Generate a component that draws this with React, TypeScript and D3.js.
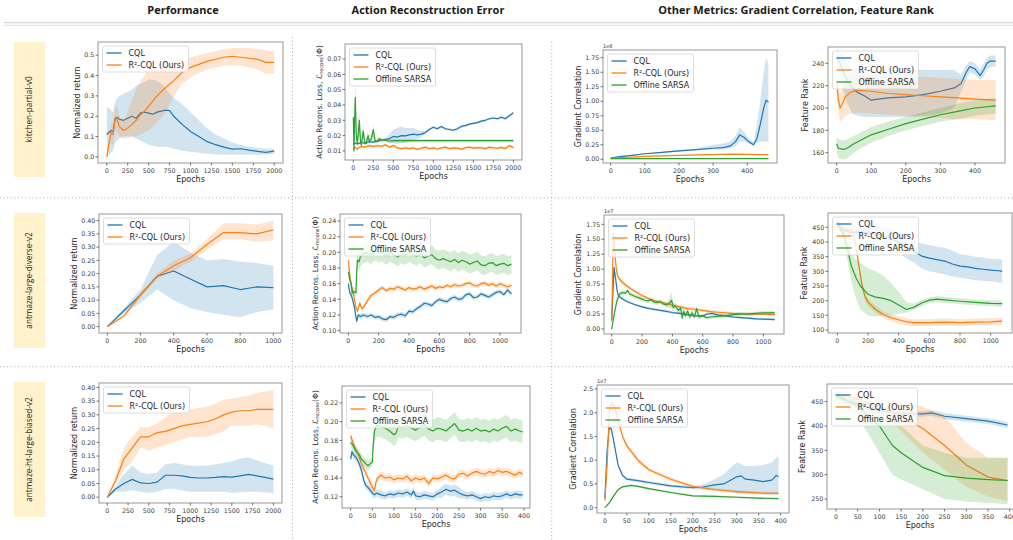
import * as d3 from "d3";

type Pt = number[]; // [epoch, mean] or [epoch, mean, lo, hi]

const C = { cql: "#1f77b4", r2: "#ff7f0e", sarsa: "#2ca02c", text: "#262626", tick: "#3a3a3a", spine: "#8c8c8c" };
const NAMES = ["CQL", "R²-CQL (Ours)", "Offline SARSA"];
const COLUMN_TITLES = ["Performance", "Action Reconstruction Error", "Other Metrics: Gradient Correlation, Feature Rank"];
const ROW_LABELS = ["kitchen-partial-v0", "antmaze-large-diverse-v2", "antmaze-ht-large-biased-v2"];

// ---- tick labels ----
const EP_2000 = [0, 250, 500, 750, 1000, 1250, 1500, 1750, 2000];
const EP_400_100 = [0, 100, 200, 300, 400];
const EP_1000 = [0, 200, 400, 600, 800, 1000];
const EP_400_50 = [0, 50, 100, 150, 200, 250, 300, 350, 400];
const K_PERF_YT = [0, 0.1, 0.2, 0.3, 0.4, 0.5];
const K_RECON_YT = [0.01, 0.02, 0.03, 0.04, 0.05, 0.06, 0.07];
const GRAD_175_YT = [0, 0.25, 0.5, 0.75, 1, 1.25, 1.5, 1.75];
const K_RANK_YT = [160, 180, 200, 220, 240];
const PERF_040_YT = [0, 0.05, 0.1, 0.15, 0.2, 0.25, 0.3, 0.35, 0.4];
const D_RECON_YT = [0.1, 0.12, 0.14, 0.16, 0.18, 0.2, 0.22, 0.24];
const D_RANK_YT = [100, 150, 200, 250, 300, 350, 400, 450];
const B_RECON_YT = [0.12, 0.14, 0.16, 0.18, 0.2, 0.22];
const B_GRAD_YT = [0, 0.5, 1, 1.5, 2, 2.5];
const B_RANK_YT = [250, 300, 350, 400, 450];

// ---- kitchen-partial-v0 ----
const K_PERF_CQL: Pt[] = [[0,0.11,0,0.24],[25,0.12,0.01,0.24],[50,0.13,0.02,0.23],[75,0.125,0.03,0.22],[100,0.19,0.07,0.27],[125,0.195,0.08,0.29],[150,0.185,0.09,0.3],[200,0.18,0.1,0.31],[250,0.19,0.1,0.32],[300,0.2,0.1,0.33],[350,0.19,0.09,0.35],[400,0.215,0.08,0.36],[450,0.22,0.07,0.37],[500,0.215,0.06,0.38],[550,0.21,0.055,0.38],[600,0.22,0.05,0.375],[650,0.225,0.05,0.36],[700,0.23,0.05,0.34],[750,0.228,0.045,0.31],[800,0.2,0.04,0.29],[900,0.16,0.03,0.26],[1000,0.125,0.025,0.22],[1100,0.1,0.02,0.18],[1200,0.075,0.015,0.14],[1300,0.06,0.012,0.11],[1400,0.048,0.01,0.09],[1500,0.038,0.01,0.07],[1600,0.04,0.01,0.06],[1700,0.033,0.01,0.05],[1800,0.027,0.01,0.045],[1900,0.022,0.01,0.04],[2000,0.028,0.015,0.04]];
const K_PERF_R2: Pt[] = [[0,0,0,0.01],[25,0.06,0.03,0.1],[50,0.12,0.07,0.16],[75,0.11,0.06,0.17],[100,0.19,0.13,0.25],[125,0.18,0.12,0.24],[150,0.15,0.1,0.2],[200,0.13,0.09,0.18],[250,0.14,0.09,0.22],[300,0.16,0.1,0.28],[350,0.18,0.1,0.33],[400,0.205,0.11,0.37],[450,0.225,0.12,0.4],[500,0.25,0.13,0.43],[600,0.3,0.17,0.45],[700,0.34,0.22,0.47],[800,0.375,0.3,0.475],[900,0.415,0.36,0.48],[1000,0.44,0.39,0.49],[1100,0.455,0.41,0.5],[1200,0.47,0.43,0.51],[1300,0.48,0.44,0.52],[1400,0.49,0.45,0.53],[1500,0.495,0.45,0.535],[1600,0.49,0.45,0.535],[1700,0.485,0.44,0.535],[1800,0.48,0.43,0.53],[1900,0.465,0.41,0.525],[2000,0.465,0.41,0.52]];

const K_RECON_SPREAD = 0.0008;
const K_RECON_CQL: Pt[] = [[0,0.0145],[25,0.015],[50,0.0145],[100,0.0155],[150,0.015],[200,0.016],[250,0.0158],[300,0.0165],[350,0.017],[400,0.0175],[450,0.018,0.015,0.021],[500,0.0195,0.015,0.024],[550,0.019,0.0145,0.025],[600,0.02,0.015,0.026],[650,0.0198,0.015,0.025],[700,0.0205,0.016,0.025],[750,0.021,0.017,0.025],[800,0.0205,0.018,0.024],[850,0.021,0.019,0.023],[900,0.022],[950,0.024],[1000,0.0255],[1050,0.0245],[1100,0.026],[1150,0.0245],[1200,0.024],[1250,0.0235],[1300,0.0245],[1350,0.026],[1400,0.0265],[1450,0.0275],[1500,0.028],[1550,0.0285],[1600,0.0295],[1650,0.03],[1700,0.031],[1750,0.0315],[1800,0.031],[1850,0.032],[1900,0.031],[1950,0.033],[2000,0.035]];
const K_RECON_R2: Pt[] = [[0,0.011],[20,0.0125],[50,0.011],[75,0.0125],[100,0.013],[150,0.0125],[200,0.0135],[250,0.013],[300,0.0135],[350,0.013],[400,0.014],[450,0.0125],[500,0.0135],[550,0.012],[600,0.0115],[650,0.012],[700,0.0115],[750,0.012],[800,0.011],[850,0.0118],[900,0.0125],[950,0.0115],[1000,0.012],[1050,0.0113],[1100,0.012],[1150,0.0125],[1200,0.0115],[1250,0.012],[1300,0.0118],[1350,0.0112],[1400,0.012],[1450,0.0125],[1500,0.0118],[1550,0.0122],[1600,0.012],[1650,0.0115],[1700,0.0125],[1750,0.012],[1800,0.0118],[1850,0.0123],[1900,0.0115],[1950,0.0135],[2000,0.0122]];
const K_RECON_SARSA: Pt[] = [[0,0.032,0.026,0.038],[8,0.01,0.008,0.014],[15,0.028,0.02,0.036],[25,0.045,0.034,0.058],[35,0.022,0.016,0.03],[50,0.015,0.012,0.02],[60,0.02,0.015,0.026],[75,0.03,0.022,0.036],[90,0.016,0.013,0.02],[100,0.014,0.012,0.017],[125,0.023,0.018,0.027],[140,0.016,0.014,0.019],[160,0.015,0.013,0.018],[185,0.02,0.017,0.023],[200,0.016,0.014,0.018],[225,0.018,0.016,0.02],[250,0.024,0.019,0.027],[270,0.017,0.015,0.019],[300,0.016,0.015,0.018],[325,0.018,0.016,0.019],[350,0.017,0.016,0.0185],[400,0.017,0.016,0.018],[450,0.0165,0.0155,0.0178],[500,0.0167,0.0155,0.0178],[1000,0.0167,0.0155,0.0178],[1500,0.0167,0.0155,0.0178],[2000,0.0167,0.0155,0.0178]];

const K_GRAD_CQL: Pt[] = [[0,0.02,0.01,0.03],[25,0.045,0.035,0.055],[50,0.06,0.05,0.07],[100,0.095,0.085,0.105],[150,0.12,0.11,0.13],[200,0.145,0.13,0.16],[250,0.165,0.15,0.18],[300,0.19,0.17,0.25],[330,0.2,0.17,0.27],[350,0.23,0.19,0.3],[365,0.3,0.22,0.4],[378,0.42,0.3,0.55],[390,0.38,0.3,0.48],[405,0.3,0.28,0.35],[418,0.25,0.23,0.3],[428,0.35,0.28,0.6],[438,0.6,0.3,1.0],[448,0.88,0.3,1.5],[455,1.02,0.3,1.75],[462,0.98,0.3,1.65]];
const K_GRAD_R2: Pt[] = [[0,0.02],[50,0.035],[100,0.05],[150,0.06],[200,0.068],[250,0.075],[300,0.08],[350,0.088],[400,0.085],[462,0.08]];
const K_GRAD_SARSA: Pt[] = [[0,0.01],[200,0.011],[462,0.012]];

const K_RANK_CQL: Pt[] = [[0,246,240,252],[10,240,225,250],[20,232,215,245],[30,225,205,240],[45,218,195,235],[60,214,193,234],[80,211,192,234],[100,207,192,234],[120,208,192,234],[150,209,192,234],[200,210,192,234],[250,212,193,234],[300,215,195,234],[340,218,200,234],[360,222,215,230],[375,232,225,238],[385,237,232,242],[400,235,230,240],[415,229,225,234],[425,234,228,240],[435,240,235,245],[445,242,237,247],[460,242,237,247]];
const K_RANK_R2: Pt[] = [[0,222,212,232],[5,208,195,222],[10,200,188,213],[18,205,190,218],[25,210,193,225],[40,214,195,228],[60,216,196,230],[100,215,195,229],[150,213,194,228],[200,212,193,228],[250,211,192,228],[300,210,191,227],[350,209,190,226],[400,208,190,225],[460,207,189,225]];
const K_RANK_SARSA: Pt[] = [[0,168,160,174],[5,164,155,172],[20,163,154,171],[30,164,155,172],[50,168,160,175],[75,172,165,179],[100,176,169,183],[150,181,175,188],[200,186,180,192],[250,190,184,196],[300,194,188,200],[350,197,190,204],[400,200,193,207],[460,202,195,209]];

// ---- antmaze-large-diverse-v2 ----
const D_PERF_CQL: Pt[] = [[0,0,0,0],[100,0.06,0.05,0.07],[200,0.12,0.09,0.14],[300,0.19,0.14,0.27],[400,0.21,0.1,0.32],[500,0.18,0.07,0.28],[600,0.15,0.055,0.25],[700,0.155,0.045,0.255],[800,0.14,0.035,0.245],[900,0.15,0.055,0.24],[1000,0.147,0.065,0.23]];
const D_PERF_R2: Pt[] = [[0,0,0,0],[100,0.04,0.035,0.045],[200,0.12,0.11,0.13],[300,0.19,0.18,0.2],[400,0.23,0.21,0.25],[500,0.26,0.245,0.275],[600,0.31,0.29,0.33],[700,0.355,0.33,0.39],[800,0.355,0.33,0.39],[900,0.35,0.32,0.385],[1000,0.365,0.325,0.4]];

const D_RECON_SPREAD = 0.003;
const D_RECON_CQL: Pt[] = [[0,0.16],[10,0.148],[20,0.145],[30,0.138],[40,0.13],[50,0.118],[55,0.112],[65,0.12],[80,0.118],[100,0.12],[125,0.118],[150,0.12],[175,0.117],[200,0.118],[225,0.115],[250,0.114],[275,0.118],[300,0.117],[325,0.12],[350,0.121],[375,0.119],[400,0.125],[425,0.124],[450,0.128],[475,0.131],[500,0.135],[525,0.134],[550,0.132],[575,0.137],[600,0.14],[625,0.138],[650,0.137],[675,0.141],[700,0.143],[725,0.14],[750,0.141],[775,0.146],[800,0.147],[825,0.142],[850,0.143],[875,0.147],[900,0.145],[925,0.143],[950,0.146],[975,0.149],[1000,0.15],[1025,0.146],[1050,0.152],[1075,0.147]];
const D_RECON_R2: Pt[] = [[0,0.19],[10,0.17],[20,0.158],[30,0.15],[40,0.14],[50,0.13],[60,0.125],[75,0.135],[90,0.128],[100,0.13],[125,0.138],[150,0.145],[175,0.148],[200,0.152],[225,0.155],[250,0.151],[275,0.154],[300,0.153],[325,0.156],[350,0.154],[375,0.152],[400,0.155],[425,0.153],[450,0.154],[475,0.156],[500,0.153],[525,0.155],[550,0.157],[575,0.154],[600,0.156],[625,0.155],[650,0.158],[675,0.156],[700,0.159],[725,0.157],[750,0.158],[775,0.16],[800,0.161],[825,0.158],[850,0.157],[875,0.16],[900,0.161],[925,0.158],[950,0.16],[975,0.157],[1000,0.16],[1025,0.158],[1050,0.156],[1075,0.158]];
const D_RECON_SARSA: Pt[] = [[0,0.175,0.169,0.181],[10,0.165,0.159,0.171],[20,0.158,0.152,0.164],[25,0.148,0.143,0.154],[35,0.15,0.145,0.156],[50,0.148,0.143,0.154],[55,0.175,0.165,0.185],[60,0.19,0.178,0.202],[70,0.188,0.176,0.2],[80,0.195,0.183,0.207],[100,0.198,0.186,0.21],[125,0.2,0.188,0.212],[150,0.197,0.185,0.209],[175,0.202,0.19,0.214],[200,0.199,0.187,0.211],[225,0.2,0.188,0.212],[250,0.196,0.184,0.208],[275,0.2,0.188,0.212],[300,0.197,0.185,0.209],[325,0.194,0.182,0.206],[350,0.198,0.186,0.21],[375,0.196,0.184,0.208],[400,0.2,0.188,0.212],[425,0.197,0.185,0.209],[450,0.195,0.183,0.207],[475,0.198,0.186,0.21],[500,0.193,0.181,0.205],[525,0.195,0.183,0.207],[550,0.197,0.185,0.209],[575,0.192,0.18,0.204],[600,0.19,0.178,0.202],[625,0.192,0.18,0.204],[650,0.19,0.178,0.202],[675,0.188,0.176,0.2],[700,0.191,0.179,0.203],[725,0.187,0.175,0.199],[750,0.19,0.178,0.202],[775,0.188,0.176,0.2],[800,0.185,0.173,0.197],[825,0.187,0.175,0.199],[850,0.189,0.177,0.201],[875,0.184,0.172,0.196],[900,0.183,0.171,0.195],[925,0.186,0.174,0.198],[950,0.187,0.175,0.199],[975,0.183,0.171,0.195],[1000,0.185,0.173,0.197],[1025,0.186,0.174,0.198],[1050,0.183,0.171,0.195],[1075,0.185,0.173,0.197]];

const D_GRAD_SPREAD = 0.02;
const D_GRAD_CQL: Pt[] = [[0,0.15],[8,0.6],[15,1.03],[25,0.85],[35,0.65],[45,0.55],[60,0.52],[80,0.49],[100,0.46],[150,0.41],[200,0.37],[250,0.34],[300,0.32],[350,0.3],[400,0.275],[450,0.26],[500,0.24],[550,0.22],[600,0.22],[630,0.25],[660,0.26],[700,0.235],[750,0.22],[800,0.2],[850,0.19],[900,0.18],[950,0.17],[1000,0.165],[1050,0.16],[1075,0.155]];
const D_GRAD_R2: Pt[] = [[0,0.13,0.1,0.16],[5,0.8,0.7,0.9],[10,1.6,1.45,1.75],[15,1.5,1.4,1.6],[20,1.3,1.22,1.38],[30,1.0,0.95,1.05],[40,0.88,0.84,0.92],[50,0.84,0.8,0.88],[70,0.78,0.74,0.82],[100,0.72,0.69,0.75],[150,0.63,0.6,0.66],[200,0.56,0.53,0.59],[250,0.5,0.47,0.53],[300,0.46,0.43,0.49],[350,0.43,0.4,0.46],[400,0.4,0.37,0.43],[450,0.37,0.34,0.4],[500,0.34,0.31,0.37],[550,0.33,0.3,0.36],[600,0.31,0.28,0.34],[650,0.29,0.26,0.32],[700,0.28,0.25,0.31],[750,0.27,0.24,0.3],[800,0.26,0.23,0.29],[850,0.255,0.23,0.28],[900,0.25,0.225,0.275],[950,0.25,0.225,0.275],[1000,0.25,0.225,0.275],[1050,0.245,0.22,0.27],[1075,0.24,0.215,0.265]];
const D_GRAD_SARSA: Pt[] = [[0,0,0,0.02],[10,0.15,0.12,0.18],[20,0.3,0.26,0.34],[35,0.48,0.44,0.52],[50,0.58,0.54,0.62],[70,0.61,0.57,0.65],[90,0.6,0.56,0.64],[105,0.64,0.6,0.68],[120,0.58,0.54,0.62],[140,0.56,0.52,0.6],[160,0.54,0.5,0.58],[180,0.52,0.48,0.56],[200,0.5,0.46,0.54],[220,0.48,0.44,0.52],[240,0.47,0.43,0.51],[260,0.49,0.45,0.53],[280,0.45,0.41,0.49],[300,0.44,0.4,0.48],[320,0.46,0.42,0.5],[340,0.42,0.38,0.46],[360,0.4,0.36,0.44],[380,0.43,0.35,0.52],[395,0.48,0.34,0.62],[405,0.36,0.3,0.44],[420,0.38,0.33,0.43],[440,0.31,0.26,0.36],[455,0.35,0.3,0.4],[465,0.18,0.13,0.24],[475,0.3,0.25,0.35],[485,0.22,0.17,0.27],[500,0.3,0.25,0.35],[515,0.2,0.15,0.25],[530,0.27,0.22,0.32],[545,0.2,0.16,0.25],[560,0.34,0.28,0.38],[575,0.2,0.16,0.24],[600,0.22,0.19,0.25],[625,0.19,0.16,0.22],[650,0.2,0.17,0.23],[700,0.21,0.18,0.24],[750,0.22,0.19,0.25],[800,0.24,0.21,0.27],[850,0.25,0.22,0.28],[900,0.25,0.22,0.28],[950,0.26,0.23,0.29],[1000,0.27,0.24,0.3],[1050,0.27,0.24,0.3],[1075,0.275,0.245,0.305]];

const D_RANK_CQL: Pt[] = [[0,455,445,465],[25,445,430,460],[50,438,425,452],[100,432,420,445],[150,435,420,450],[200,430,412,448],[250,428,405,450],[300,422,395,450],[350,412,380,445],[400,398,365,432],[450,382,345,420],[500,368,330,405],[550,352,310,395],[600,345,300,390],[650,340,295,385],[700,335,290,380],[750,325,282,370],[800,318,278,358],[850,315,275,355],[900,310,270,350],[950,307,268,347],[1000,304,265,343],[1050,302,262,342],[1075,300,260,340]];
const D_RANK_R2: Pt[] = [[0,470,460,480],[20,440,428,452],[40,445,433,457],[60,443,431,455],[80,440,428,452],[100,438,425,450],[120,390,375,405],[140,320,305,335],[160,255,240,270],[180,215,200,230],[200,195,182,208],[250,170,158,182],[300,152,140,164],[350,142,130,154],[400,135,123,147],[450,128,116,140],[500,125,113,137],[600,125,113,137],[700,127,115,139],[800,125,113,137],[900,127,115,139],[1000,128,116,140],[1075,130,118,142]];
const D_RANK_SARSA: Pt[] = [[0,470,460,480],[30,440,420,460],[60,390,355,420],[90,320,270,360],[120,280,210,340],[150,250,170,330],[200,222,150,310],[250,212,145,300],[300,208,150,285],[350,200,150,260],[400,185,155,230],[450,170,160,195],[500,178,168,190],[550,192,182,202],[600,202,192,212],[650,205,195,215],[700,203,193,213],[800,198,188,208],[900,194,184,204],[1000,191,181,201],[1075,190,180,200]];

// ---- antmaze-ht-large-biased-v2 ----
const B_PERF_CQL: Pt[] = [[0,0,0,0],[100,0.03,0.02,0.04],[200,0.05,0.02,0.085],[300,0.065,0.025,0.115],[400,0.052,0.02,0.09],[500,0.05,0.015,0.085],[600,0.055,0.02,0.09],[700,0.08,0.03,0.12],[800,0.08,0.03,0.125],[900,0.078,0.025,0.12],[1000,0.072,0.02,0.115],[1100,0.07,0.02,0.115],[1200,0.07,0.02,0.115],[1300,0.072,0.02,0.12],[1400,0.075,0.02,0.125],[1500,0.073,0.015,0.13],[1600,0.078,0.018,0.14],[1700,0.083,0.02,0.145],[1800,0.078,0.02,0.135],[1900,0.072,0.018,0.125],[2000,0.066,0.015,0.115]];
const B_PERF_R2: Pt[] = [[0,0,0,0],[100,0.06,0.05,0.08],[200,0.14,0.1,0.18],[300,0.18,0.13,0.22],[400,0.22,0.18,0.255],[500,0.22,0.17,0.255],[600,0.235,0.18,0.27],[700,0.24,0.19,0.29],[800,0.25,0.2,0.31],[900,0.26,0.21,0.315],[1000,0.265,0.22,0.32],[1100,0.27,0.22,0.325],[1200,0.275,0.22,0.33],[1300,0.285,0.23,0.34],[1400,0.3,0.24,0.355],[1500,0.31,0.26,0.36],[1600,0.315,0.26,0.365],[1700,0.315,0.26,0.37],[1800,0.32,0.265,0.38],[1900,0.32,0.26,0.385],[2000,0.32,0.25,0.39]];

const B_RECON_SPREAD = 0.004;
const B_RECON_CQL: Pt[] = [[0,0.16],[3,0.168],[6,0.165],[10,0.163],[15,0.16],[20,0.155],[25,0.148],[30,0.138],[35,0.132],[40,0.13],[45,0.127],[50,0.124],[55,0.122],[60,0.124],[70,0.122],[80,0.121],[90,0.123],[100,0.122],[110,0.124],[120,0.123],[130,0.125],[140,0.122],[145,0.126],[150,0.121],[160,0.12],[170,0.122],[180,0.121],[190,0.12],[200,0.123],[210,0.125,0.119,0.131],[220,0.128,0.122,0.134],[230,0.126,0.12,0.132],[240,0.127,0.121,0.133],[250,0.124,0.118,0.13],[260,0.122],[270,0.121],[280,0.122],[290,0.12],[300,0.118],[310,0.12],[320,0.119],[330,0.121],[340,0.12],[350,0.121],[360,0.123],[370,0.121],[380,0.123],[390,0.122],[397,0.122]];
const B_RECON_R2: Pt[] = [[0,0.185],[5,0.178],[10,0.172],[15,0.168],[20,0.162],[25,0.155],[30,0.15],[35,0.145],[40,0.14],[45,0.135],[50,0.13],[55,0.127],[58,0.135],[62,0.14],[70,0.143],[80,0.14],[90,0.141],[100,0.138],[110,0.14],[120,0.139],[130,0.142],[140,0.137],[150,0.14],[160,0.138],[170,0.14],[180,0.134],[190,0.14],[200,0.139],[210,0.141],[220,0.143],[230,0.14],[240,0.139],[250,0.144],[260,0.145],[270,0.142],[280,0.145],[290,0.147],[300,0.145],[310,0.144],[320,0.147],[330,0.145],[340,0.148],[350,0.146],[360,0.147],[370,0.145],[380,0.143],[390,0.146],[397,0.144]];
const B_RECON_SARSA: Pt[] = [[0,0.178,0.173,0.183],[5,0.175,0.17,0.18],[10,0.17,0.165,0.175],[15,0.167,0.162,0.172],[20,0.165,0.16,0.17],[25,0.16,0.155,0.165],[30,0.158,0.153,0.163],[35,0.155,0.15,0.16],[40,0.153,0.148,0.158],[45,0.155,0.15,0.16],[50,0.157,0.152,0.162],[52,0.175,0.165,0.185],[55,0.19,0.178,0.202],[60,0.196,0.184,0.208],[70,0.195,0.183,0.207],[80,0.193,0.181,0.205],[90,0.19,0.178,0.202],[100,0.186,0.174,0.198],[105,0.188,0.176,0.2],[110,0.195,0.183,0.207],[120,0.194,0.182,0.206],[130,0.196,0.184,0.208],[140,0.193,0.181,0.205],[150,0.191,0.179,0.203],[160,0.194,0.182,0.206],[170,0.197,0.185,0.209],[180,0.192,0.18,0.204],[190,0.19,0.178,0.202],[200,0.193,0.181,0.205],[210,0.192,0.18,0.204],[220,0.19,0.178,0.202],[230,0.194,0.182,0.206],[240,0.198,0.186,0.21],[250,0.191,0.179,0.203],[260,0.19,0.178,0.202],[270,0.192,0.18,0.204],[280,0.19,0.178,0.202],[290,0.193,0.181,0.205],[300,0.19,0.178,0.202],[310,0.191,0.179,0.203],[320,0.189,0.177,0.201],[330,0.192,0.18,0.204],[340,0.19,0.178,0.202],[350,0.193,0.181,0.205],[360,0.195,0.183,0.207],[370,0.19,0.178,0.202],[380,0.192,0.18,0.204],[390,0.19,0.178,0.202],[397,0.189,0.177,0.201]];

const B_GRAD_CQL: Pt[] = [[0,0.2,0.17,0.23],[5,1.2,1.15,1.25],[10,1.7,1.65,1.75],[15,1.65,1.6,1.7],[20,1.4,1.36,1.44],[30,0.9,0.87,0.93],[40,0.68,0.65,0.71],[50,0.6,0.57,0.63],[75,0.57,0.54,0.6],[100,0.53,0.5,0.56],[150,0.46,0.43,0.49],[200,0.42,0.39,0.45],[220,0.43,0.38,0.48],[250,0.48,0.38,0.6],[270,0.5,0.35,0.7],[290,0.6,0.32,0.88],[300,0.65,0.3,0.95],[310,0.67,0.3,0.92],[320,0.6,0.3,0.88],[340,0.58,0.3,0.88],[360,0.55,0.28,0.9],[380,0.58,0.28,0.95],[390,0.68,0.28,1.05],[395,0.65,0.28,1.08]];
const B_GRAD_R2: Pt[] = [[0,0.15,0.12,0.18],[5,0.9,0.85,0.95],[10,2.0,1.95,2.05],[15,2.2,2.15,2.25],[20,2.18,2.12,2.24],[30,1.85,1.79,1.91],[40,1.5,1.44,1.56],[50,1.3,1.25,1.35],[75,1.0,0.95,1.05],[100,0.8,0.76,0.84],[150,0.6,0.56,0.64],[200,0.45,0.42,0.48],[250,0.38,0.35,0.41],[300,0.34,0.31,0.37],[350,0.31,0.28,0.34],[395,0.3,0.27,0.33]];
const B_GRAD_SARSA: Pt[] = [[0,0,0,0.02],[10,0.1,0.08,0.12],[20,0.25,0.23,0.27],[30,0.38,0.36,0.4],[40,0.44,0.42,0.46],[60,0.47,0.45,0.49],[70,0.46,0.44,0.48],[100,0.4,0.38,0.42],[150,0.32,0.3,0.34],[200,0.25,0.23,0.27],[250,0.24,0.22,0.26],[300,0.22,0.2,0.24],[350,0.2,0.18,0.22],[395,0.19,0.17,0.21]];

const B_RANK_CQL: Pt[] = [[0,460,454,466],[50,445,439,451],[100,432,426,438],[150,425,419,431],[200,425,419,431],[220,427,421,433],[250,420,414,426],[300,415,409,421],[350,410,404,416],[395,402,396,408]];
const B_RANK_R2: Pt[] = [[0,465,458,472],[50,455,440,468],[100,440,425,455],[150,420,390,450],[200,395,345,440],[250,360,310,420],[300,320,275,365],[350,295,255,335],[395,288,245,335]];
const B_RANK_SARSA: Pt[] = [[0,465,458,472],[50,440,420,455],[100,400,345,440],[130,360,300,420],[150,345,290,400],[200,315,270,360],[250,298,250,345],[300,293,245,335],[350,290,242,335],[395,288,240,335]];

// ---- layout: axes box [left, top, right, bottom], domains, ticks ----
const RECON_LABEL = "recon";
const PANELS = [
  { box: [98, 42, 283, 163], xd: [-105, 2105], yd: [-0.03, 0.565], xt: EP_2000, yt: K_PERF_YT, yf: ".1f", yl: "Normalized return", ylx: 77, series: [K_PERF_CQL, K_PERF_R2] },
  { box: [345, 44, 522, 160], xd: [-104, 2108], yd: [0.0041, 0.0798], xt: EP_2000, yt: K_RECON_YT, yf: ".2f", yl: RECON_LABEL, ylx: 319, series: [K_RECON_CQL, K_RECON_R2, K_RECON_SARSA], spread: K_RECON_SPREAD },
  { box: [603, 50, 777, 163], xd: [-22.5, 487], yd: [-0.064, 1.883], xt: EP_400_100, yt: GRAD_175_YT, yf: ".2f", yl: "Gradient Correlation", ylx: 578, series: [K_GRAD_CQL, K_GRAD_R2, K_GRAD_SARSA], spread: 0.008, exp: "1e8" },
  { box: [828, 47, 1005, 163], xd: [-25, 487], yd: [150.8, 254.6], xt: EP_400_100, yt: K_RANK_YT, yf: "d", yl: "Feature Rank", ylx: 805, series: [K_RANK_CQL, K_RANK_R2, K_RANK_SARSA] },
  { box: [99, 214, 282, 333], xd: [-50, 1052], yd: [-0.024, 0.425], xt: EP_1000, yt: PERF_040_YT, yf: ".2f", yl: "Normalized return", ylx: 74, series: [D_PERF_CQL, D_PERF_R2] },
  { box: [340, 214, 521, 333], xd: [-55, 1138], yd: [0.097, 0.249], xt: EP_1000, yt: D_RECON_YT, yf: ".2f", yl: RECON_LABEL, ylx: 315, series: [D_RECON_CQL, D_RECON_R2, D_RECON_SARSA], spread: D_RECON_SPREAD },
  { box: [604, 215, 784, 334], xd: [-51, 1136], yd: [-0.084, 1.906], xt: EP_1000, yt: GRAD_175_YT, yf: ".2f", yl: "Gradient Correlation", ylx: 578, series: [D_GRAD_CQL, D_GRAD_R2, D_GRAD_SARSA], spread: D_GRAD_SPREAD, exp: "1e7" },
  { box: [828, 213, 1012, 333], xd: [-61, 1139], yd: [89.8, 498.8], xt: EP_1000, yt: D_RANK_YT, yf: "d", yl: "Feature Rank", ylx: 804, series: [D_RANK_CQL, D_RANK_R2, D_RANK_SARSA] },
  { box: [99, 383, 282, 503], xd: [-100, 2104], yd: [-0.021, 0.416], xt: EP_2000, yt: PERF_040_YT, yf: ".2f", yl: "Normalized return", ylx: 74, series: [B_PERF_CQL, B_PERF_R2] },
  { box: [342, 386, 530, 508], xd: [-20, 414], yd: [0.108, 0.238], xt: EP_400_50, yt: B_RECON_YT, yf: ".2f", yl: RECON_LABEL, ylx: 315, series: [B_RECON_CQL, B_RECON_R2, B_RECON_SARSA], spread: B_RECON_SPREAD },
  { box: [597, 385, 789, 513], xd: [-18, 419], yd: [-0.112, 2.584], xt: EP_400_50, yt: B_GRAD_YT, yf: ".1f", yl: "Gradient Correlation", ylx: 573, series: [B_GRAD_CQL, B_GRAD_R2, B_GRAD_SARSA], exp: "1e7" },
  { box: [827, 384, 1018, 509], xd: [-20.7, 419], yd: [229.5, 486.3], xt: EP_400_50, yt: B_RANK_YT, yf: "d", yl: "Feature Rank", ylx: 802, series: [B_RANK_CQL, B_RANK_R2, B_RANK_SARSA] },
];
const SERIES_COLORS = [C.cql, C.r2, C.sarsa];
const FONT = "'DejaVu Sans', sans-serif";

function norm(rows: Pt[], spread = 0): Pt[] {
  return rows.map(r => (r.length >= 4 ? r : [r[0], r[1], r[1] - spread, r[1] + spread]));
}

function Panel({ p, i }: { p: any; i: number }) {
  const [l, t, r, b] = p.box;
  const x = d3.scaleLinear().domain(p.xd).range([l, r]);
  const y = d3.scaleLinear().domain(p.yd).range([b, t]);
  const yFmt = d3.format(p.yf);
  const area = d3.area<Pt>().x(d => x(d[0])).y0(d => y(d[2])).y1(d => y(d[3]));
  const line = d3.line<Pt>().x(d => x(d[0])).y(d => y(d[1]));
  const n = p.series.length;
  const lgX = l + 4.5, lgY = t + 4;
  const cy = (t + b) / 2;
  return (
    <g>
      <defs>
        <clipPath id={`clip${i}`}><rect x={l} y={t} width={r - l} height={b - t} /></clipPath>
      </defs>
      <g clipPath={`url(#clip${i})`}>
        {p.series.map((s: Pt[], k: number) => {
          const rows = norm(s, p.spread || 0);
          return (
            <g key={k}>
              <path d={area(rows) || ""} fill={SERIES_COLORS[k]} fillOpacity={0.2} />
              <path d={line(rows) || ""} fill="none" stroke={SERIES_COLORS[k]} strokeWidth={1.2} strokeLinejoin="round" />
            </g>
          );
        })}
      </g>
      <rect x={l} y={t} width={r - l} height={b - t} fill="none" stroke={C.spine} strokeWidth={0.9} />
      {p.xt.map((v: number) => (
        <g key={v}>
          <line x1={x(v)} x2={x(v)} y1={b} y2={b + 2.5} stroke={C.tick} strokeWidth={0.7} />
          <text x={x(v)} y={b + 10} fontSize={6.3} fill={C.tick} textAnchor="middle" fontFamily={FONT}>{v}</text>
        </g>
      ))}
      {p.yt.map((v: number) => (
        <g key={v}>
          <line x1={l - 2.5} x2={l} y1={y(v)} y2={y(v)} stroke={C.tick} strokeWidth={0.7} />
          <text x={l - 3.8} y={y(v)} dy="0.35em" fontSize={6.3} fill={C.tick} textAnchor="end" fontFamily={FONT}>{yFmt(v)}</text>
        </g>
      ))}
      {p.exp && <text x={l} y={t - 2} fontSize={5} fill={C.tick} fontFamily={FONT}>{p.exp}</text>}
      <text x={(l + Math.min(r, 1013)) / 2} y={b + 18.5} fontSize={8} fill={C.text} textAnchor="middle" fontFamily={FONT}>Epochs</text>
      {p.yl === RECON_LABEL ? (
        <text transform={`translate(${p.ylx},${cy}) rotate(-90)`} dy="0.35em" fontSize={7.6} fill={C.text} textAnchor="middle" fontFamily={FONT}>
          Action Recons. Loss, <tspan fontStyle="italic">ℒ</tspan><tspan fontSize={5} dy={1.8}>recons</tspan><tspan dy={-1.8}>(Φ)</tspan>
        </text>
      ) : (
        <text transform={`translate(${p.ylx},${cy}) rotate(-90)`} dy="0.35em" fontSize={8} fill={C.text} textAnchor="middle" fontFamily={FONT}>{p.yl}</text>
      )}
      <rect x={lgX} y={lgY} width={86} height={14 + 12 * (n - 1)} rx={2} fill="#fff" fillOpacity={0.8} stroke="#d4d4d4" strokeWidth={0.8} />
      {p.series.map((_: Pt[], k: number) => (
        <g key={k}>
          <line x1={lgX + 4} x2={lgX + 19} y1={lgY + 7 + 12 * k} y2={lgY + 7 + 12 * k} stroke={SERIES_COLORS[k]} strokeWidth={1.3} />
          <text x={lgX + 26} y={lgY + 7 + 12 * k} dy="0.35em" fontSize={8} fill={C.text} fontFamily={FONT}>{NAMES[k]}</text>
        </g>
      ))}
    </g>
  );
}

const TITLE_X = [183, 428, 796];
const ROW_BOXES = [[42, 177], [213, 348], [382, 517]];

export default function App() {
  return (
    <div style={{ position: "absolute", left: 0, top: 0, background: "#fff" }}>
      <svg width={1013} height={540} style={{ display: "block" }}>
        <rect width={1013} height={540} fill="#fff" />
        {COLUMN_TITLES.map((s, k) => (
          <text key={s} x={TITLE_X[k]} y={14} fontSize={11} fontWeight={700} fill="#1a1a1a" textAnchor="middle" fontFamily="'Open Sans', sans-serif">{s}</text>
        ))}
        <line x1={4} x2={1013} y1={22.7} y2={22.7} stroke="#c8c8c8" strokeWidth={0.9} />
        <line x1={4} x2={1013} y1={25.3} y2={25.3} stroke="#dcdcdc" strokeWidth={0.9} />
        <line x1={292.5} x2={292.5} y1={37} y2={540} stroke="#999" strokeWidth={0.8} strokeDasharray="1 2.6" />
        <line x1={551.7} x2={551.7} y1={42} y2={540} stroke="#999" strokeWidth={0.8} strokeDasharray="1 2.6" />
        <line x1={0} x2={1013} y1={197.8} y2={197.8} stroke="#999" strokeWidth={0.8} strokeDasharray="1 2.6" />
        <line x1={0} x2={1013} y1={366.8} y2={366.8} stroke="#999" strokeWidth={0.8} strokeDasharray="1 2.6" />
        {ROW_LABELS.map((s, k) => {
          const [y0, y1] = ROW_BOXES[k];
          return (
            <g key={s}>
              <rect x={14} y={y0} width={31} height={y1 - y0} fill="#fff2cc" />
              <text transform={`translate(29.5,${(y0 + y1) / 2}) rotate(-90)`} dy="0.35em" fontSize={8.2} fill="#222" textAnchor="middle" fontFamily="'Open Sans', sans-serif">{s}</text>
            </g>
          );
        })}
        {PANELS.map((p, i) => <Panel key={i} p={p} i={i} />)}
      </svg>
    </div>
  );
}
